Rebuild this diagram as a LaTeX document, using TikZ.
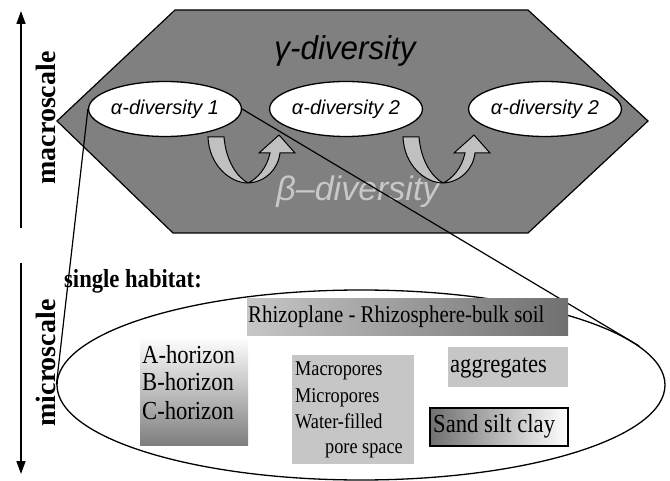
\documentclass[tikz,border=0pt]{standalone}
\usepackage{fontspec}
\setmainfont{Liberation Serif}
\setsansfont{Liberation Sans}
\usetikzlibrary{shapes.geometric,arrows.meta}
\definecolor{hexGray}{RGB}{128,128,128}
\definecolor{betaGray}{RGB}{200,200,200}
\definecolor{turnGray}{RGB}{192,192,192}
\definecolor{boxLight}{RGB}{198,198,198}
\definecolor{boxDark}{RGB}{112,112,112}

\begin{document}
\begin{tikzpicture}[x=1pt, y=-1pt,
  scalearrow/.style={line width=1.5pt, -{Triangle[length=13pt,width=9pt]}},
  scalelabel/.style={rotate=90, inner sep=0pt, font=\fontsize{28}{32}\selectfont\bfseries},
  alphanode/.style={ellipse, draw, line width=1.3pt, fill=white, minimum width=146pt,
    minimum height=55pt, inner sep=0pt, font=\fontsize{20}{24}\selectfont\sffamily\itshape},
  turn/.style={draw=black, line width=1pt, fill=turnGray},
  txt/.style={inner sep=0pt, anchor=base west, xscale=0.87}]

  \useasboundingbox (0,0) rectangle (670,481);

  % Scale arrows on the left
  \coordinate (macrobot) at (21,228);
  \coordinate (macrotop) at (21,11);
  \coordinate (microtop) at (21,263);
  \coordinate (microbot) at (21,474);
  \draw[scalearrow] (macrobot) -- (macrotop);
  \draw[scalearrow] (microtop) -- (microbot);
  \node[scalelabel] (macrolabel) at (46,118) {macroscale};
  \node[scalelabel] (microlabel) at (46,363) {microscale};

  % Landscape hexagon
  \filldraw[fill=hexGray, line width=1.2pt]
    (175,10) -- (528,10) -- (648,121) -- (528,233) -- (173,233) -- (57,121) -- cycle;
  \node[inner sep=0pt, anchor=base, text=betaGray, font=\fontsize{34}{40}\selectfont\sffamily\itshape]
    (betalabel) at (358,201) {β–diversity};

  % Turn-over arrows
  \foreach \bx in {248,443} {
    \filldraw[turn, shift={(\bx,183)}]
      (-40,-46) .. controls (-39,-18) and (-18,0) .. (0,0)
      .. controls (18,-1) and (30,-14) .. (32,-30) -- (47,-30) -- (31,-48) -- (11,-30) -- (22,-30)
      .. controls (19,-15) and (9,-4) .. (0,0)
      .. controls (-11,-6) and (-22,-22) .. (-24,-46) -- cycle;
  }

  % Single habitat ellipse
  \node[ellipse, draw, line width=1.3pt, minimum width=608pt, minimum height=190pt,
    inner sep=0pt] (habitat) at (361,385) {};

  % Local communities
  \node[alphanode] (alphaA) at (165,109) {α-diversity 1};
  \node[alphanode] (alphaB) at (346,109) {α-diversity 2};
  \node[alphanode] (alphaC) at (545,109) {α-diversity 2};
  \node[inner sep=0pt, anchor=base, font=\fontsize{33}{38}\selectfont\sffamily\itshape, xscale=0.95]
    (gammalabel) at (345,60) {γ-diversity};

  % Zoom lines
  \draw[line width=1.2pt] (alphaA.west) -- (habitat.west);
  \draw[line width=1.2pt] (alphaA.east) -- (habitat.8);

  % Boxes
  \shade[left color=boxLight, right color=boxDark] (247,299) rectangle (568,336);
  \shade[top color=white, bottom color=boxDark!90] (140,337) rectangle (248,445);
  \fill[boxLight] (292,355) rectangle (414,464);
  \fill[boxLight] (448,347) rectangle (568,387);
  \shade[draw=black, line width=1.3pt, left color=boxDark, right color=white] (430,408) rectangle (568,446);

  % Texts
  \node[txt, font=\fontsize{26}{30}\selectfont\bfseries] (habitatlabel) at (64,288) {single habitat:};
  \node[txt, font=\fontsize{24}{28}\selectfont] (rhizo) at (248,323) {Rhizoplane - Rhizosphere-bulk soil};
  \foreach \h/\yy in {A/363,B/391,C/419}
    \node[txt, font=\fontsize{26}{30}\selectfont] (hor\h) at (142,\yy) {\h-horizon};
  \foreach \t/\xx/\yy [count=\i] in {Macropores/295/375, Micropores/295/402, Water-filled/295/428, pore space/325/453}
    \node[txt, font=\fontsize{21}{25}\selectfont] (pore\i) at (\xx,\yy) {\t};
  \node[txt, font=\fontsize{26}{30}\selectfont] (aggr) at (450,373) {aggregates};
  \node[txt, font=\fontsize{26}{30}\selectfont] (texture) at (433,432) {Sand silt clay};

\end{tikzpicture}
\end{document}
